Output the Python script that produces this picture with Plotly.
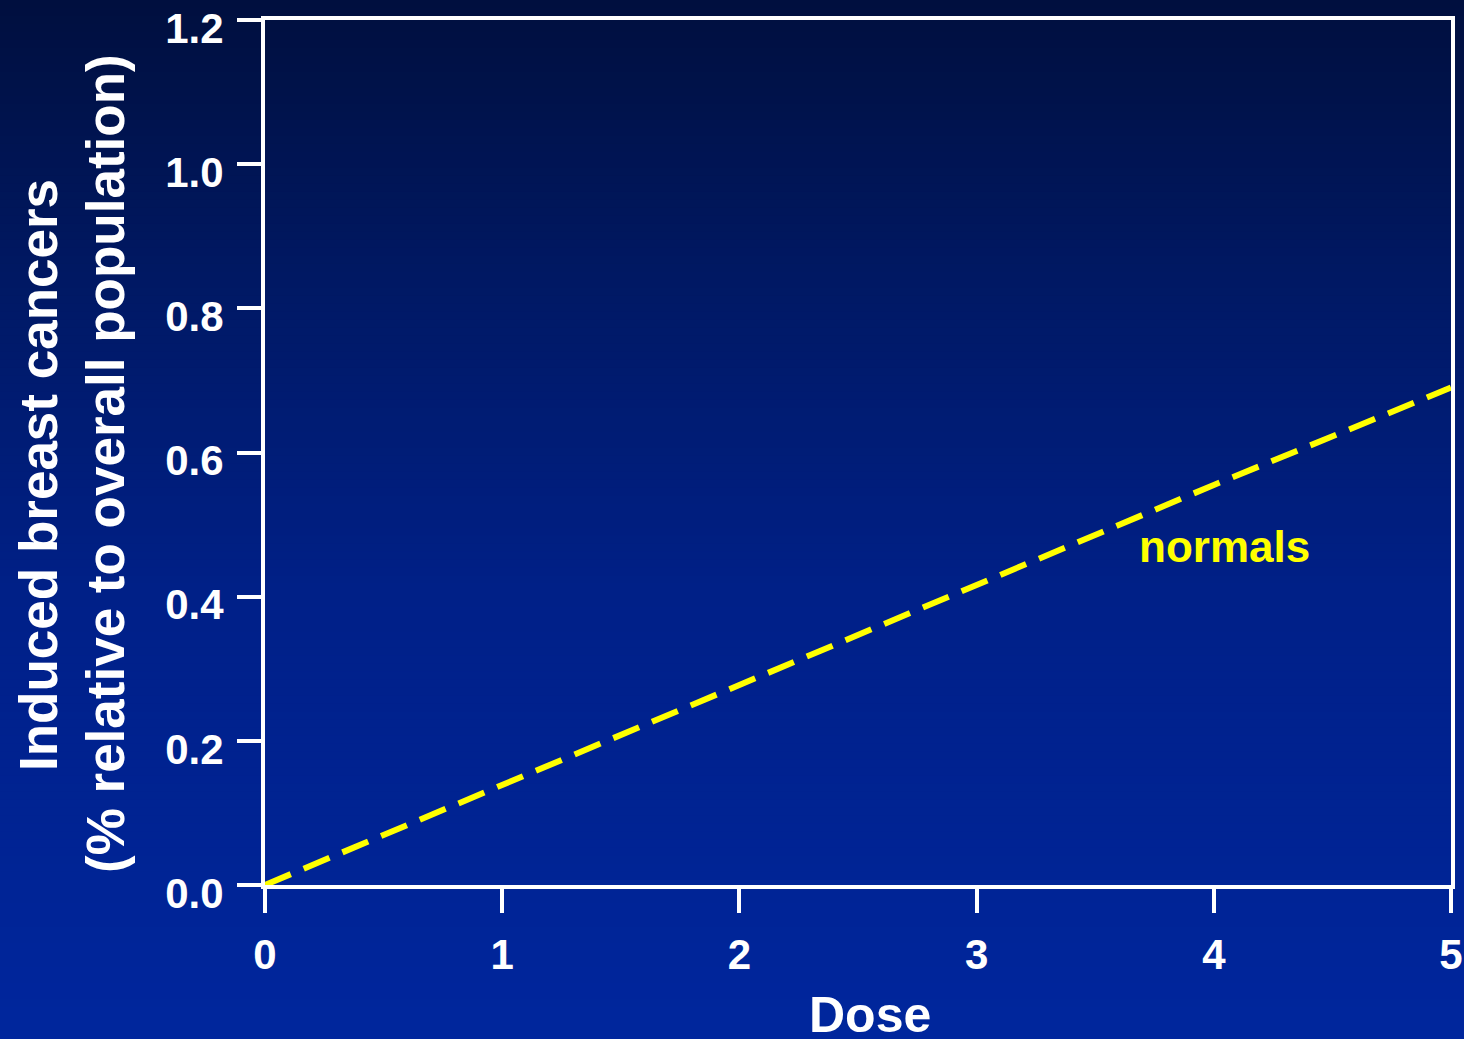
import plotly.graph_objects as go

# ---- data ----
dose = [0, 1, 2, 3, 4, 5]
normals = [0.0, 0.139, 0.277, 0.417, 0.555, 0.69]
x_ticks = [0, 1, 2, 3, 4, 5]
y_ticks = [0.0, 0.2, 0.4, 0.6, 0.8, 1.0, 1.2]
y_title_1 = "Induced breast cancers"
y_title_2 = "(% relative to overall population)"
x_title = "Dose"
series_label = "normals"

W, H = 1464, 1039
ML, MR, MT, MB = 265, 13, 20, 154
PW, PH = W - ML - MR, H - MT - MB

def px_to_paper_x(px):
    return (px - ML) / PW

def px_to_paper_y(py):
    return (H - MB - py) / PH

# background gradient stops (pixel y, rgb)
stops = [(0, (0, 15, 62)), (300, (0, 25, 102)), (600, (0, 32, 136)), (1039, (0, 38, 157))]

def color_at(py):
    for (y0, c0), (y1, c1) in zip(stops[:-1], stops[1:]):
        if y0 <= py <= y1:
            t = (py - y0) / (y1 - y0)
            return "rgb(%d,%d,%d)" % tuple(round(a + (b - a) * t) for a, b in zip(c0, c1))
    return "rgb(%d,%d,%d)" % stops[-1][1]

shapes = []
n_bands = 130
band = H / n_bands
for i in range(n_bands):
    top = i * band
    bot = (i + 1) * band + 1
    shapes.append(dict(
        type="rect", xref="paper", yref="paper", layer="below",
        x0=px_to_paper_x(-2), x1=px_to_paper_x(W + 2),
        y0=px_to_paper_y(bot), y1=px_to_paper_y(top - 1 if i == 0 else top),
        fillcolor=color_at(top + band / 2), line=dict(width=0),
    ))

fig = go.Figure()
fig.add_trace(go.Scatter(
    x=dose, y=normals, mode="lines",
    line=dict(color="#FFFF00", width=6, dash="28px,14px"),
    showlegend=False, hoverinfo="skip", cliponaxis=False,
))

font_family = "Liberation Sans, Arial, sans-serif"

axis_common = dict(
    showline=True, mirror=True, linecolor="white", linewidth=4,
    ticks="outside", ticklen=24, tickwidth=4, tickcolor="white",
    showgrid=False, zeroline=False, ticklabeloverflow="allow", automargin=False,
    tickfont=dict(family=font_family, size=42, color="white", weight="bold"),
)

fig.update_xaxes(range=[0, 5], tickvals=x_ticks, ticktext=[str(v) for v in x_ticks],
                 ticklabelstandoff=6,
                 **axis_common)
fig.update_yaxes(range=[0, 1.2], tickvals=y_ticks, ticktext=["%.1f" % v for v in y_ticks],
                 ticklabelstandoff=5, ticklabelshift=8,
                 **axis_common)

annotations = [
    dict(text="<b>%s</b>" % y_title_1, textangle=-90, xref="paper", yref="paper",
         x=px_to_paper_x(38), y=px_to_paper_y(475), xanchor="center", yanchor="middle",
         showarrow=False, font=dict(family=font_family, size=53, color="white")),
    dict(text="<b>%s</b>" % y_title_2, textangle=-90, xref="paper", yref="paper",
         x=px_to_paper_x(106), y=px_to_paper_y(464), xanchor="center", yanchor="middle",
         showarrow=False, font=dict(family=font_family, size=53, color="white")),
    dict(text="<b>%s</b>" % x_title, xref="paper", yref="paper",
         x=px_to_paper_x(870), y=px_to_paper_y(1015), xanchor="center", yanchor="middle",
         showarrow=False, font=dict(family=font_family, size=50, color="white")),
    dict(text="<b>%s</b>" % series_label, xref="x", yref="y",
         x=4.044, y=0.47, xanchor="center", yanchor="middle",
         showarrow=False, font=dict(family=font_family, size=44, color="#FFFF00")),
]

fig.update_layout(
    width=W, height=H,
    margin=dict(l=ML, r=MR, t=MT, b=MB, autoexpand=False),
    paper_bgcolor="rgb(0,15,62)", plot_bgcolor="rgba(0,0,0,0)",
    shapes=shapes, annotations=annotations, showlegend=False,
)

fig.write_html("out.html", config={"displayModeBar": False},
               post_script="document.body.style.margin='0';document.body.style.overflow='hidden';")
